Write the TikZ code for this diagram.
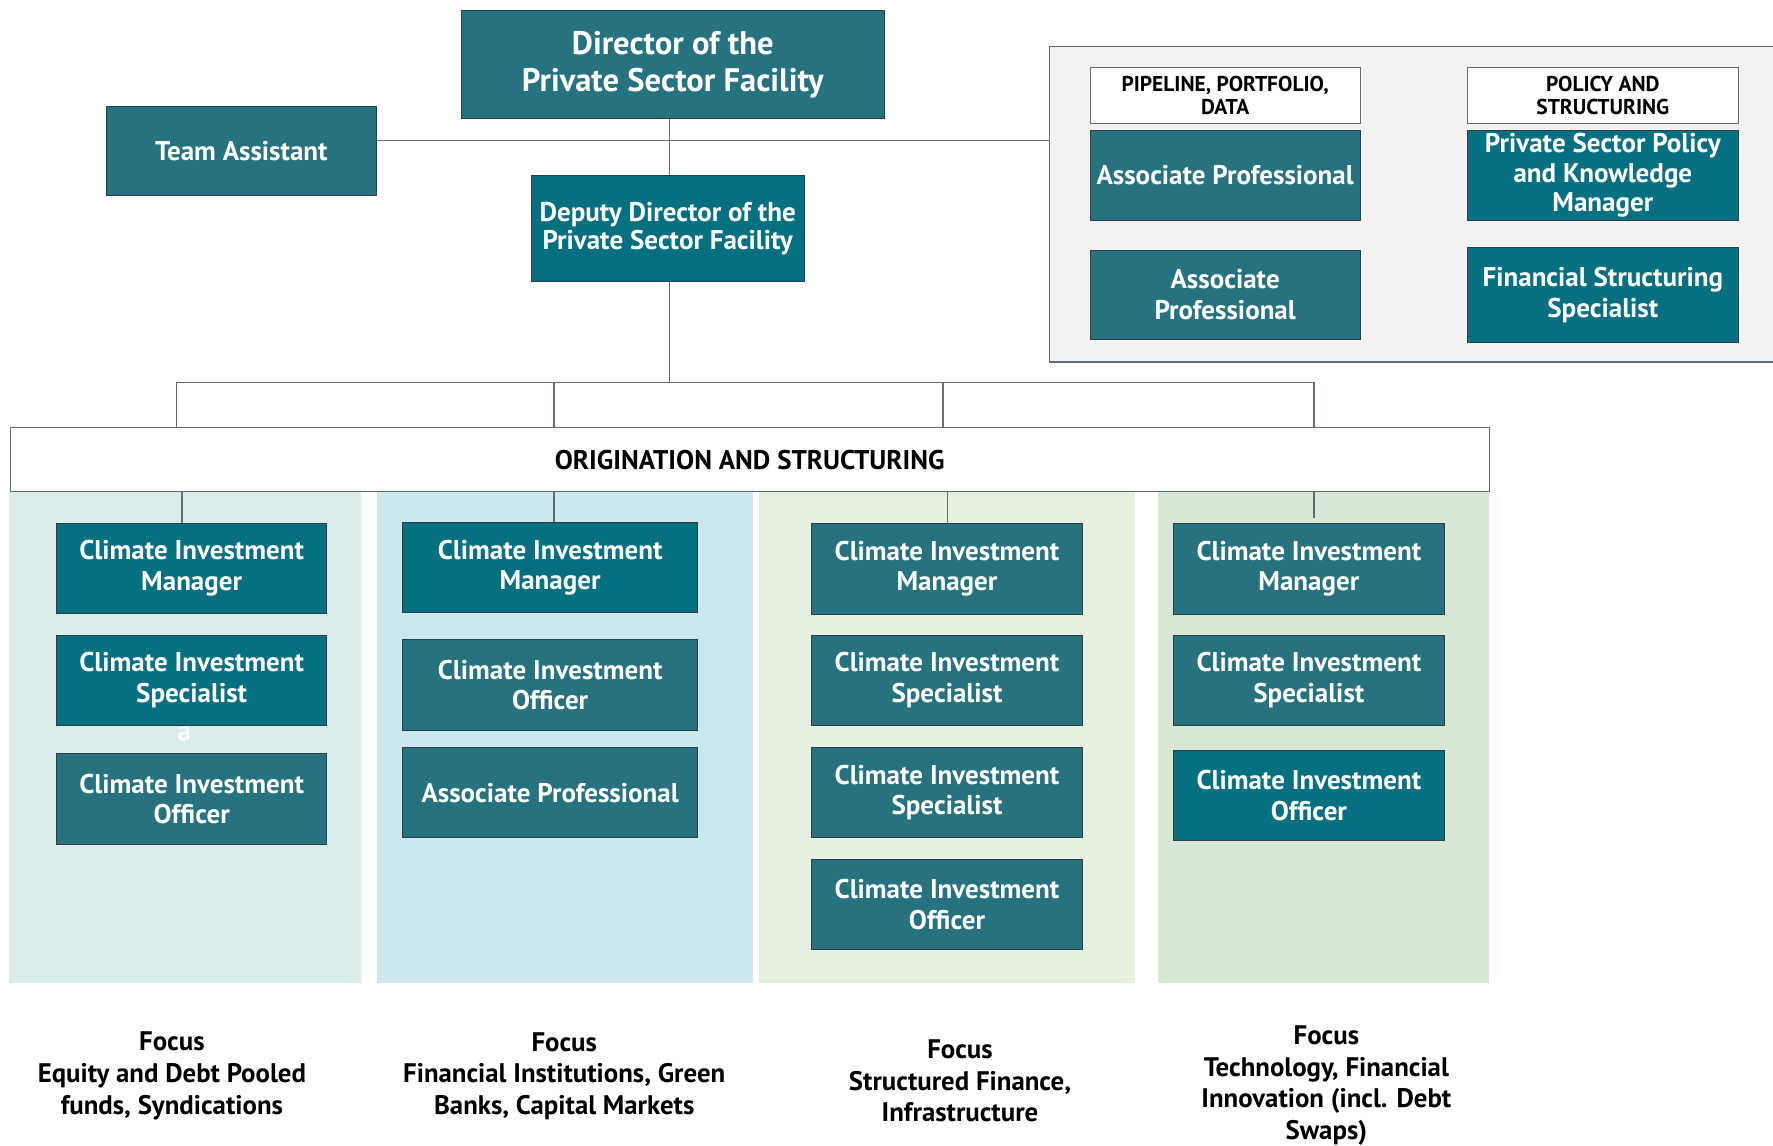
\documentclass[tikz,border=0pt]{standalone}
\usepackage{fontspec}
\setmainfont{PT Sans}
\usepackage{tikz}

\definecolor{tealgrey}{RGB}{38,114,126}
\definecolor{tealdark}{RGB}{5,112,128}
\definecolor{boxline}{RGB}{45,62,72}
\definecolor{linegrey}{RGB}{100,108,118}
\definecolor{panelfill}{RGB}{242,242,242}
\definecolor{colone}{RGB}{219,237,235}
\definecolor{coltwo}{RGB}{203,232,239}
\definecolor{colthree}{RGB}{230,240,223}
\definecolor{colfour}{RGB}{214,232,211}

\tikzset{
    role/.style={draw=boxline, fill=tealgrey, text=white, align=center,
        font=\bfseries\fontsize{13.6}{15.2}\selectfont,
        minimum width=4.78cm, minimum height=1.6cm, inner sep=1pt},
    roledark/.style={role, fill=tealdark},
    header/.style={draw=linegrey, fill=white, align=center,
        font=\bfseries\fontsize{10.8}{11.9}\selectfont,
        minimum width=4.78cm, minimum height=0.98cm, inner sep=1pt},
    link/.style={draw=linegrey, line width=0.6pt},
    focus/.style={align=center, font=\bfseries\fontsize{13.5}{15.9}\selectfont}
}

\begin{document}
\begin{tikzpicture}
    \useasboundingbox (0, 0) rectangle (31.36, -20.26);

    % column backgrounds
    \fill [colone]   (0.16, -8.7) rectangle (6.38, -17.38);
    \fill [coltwo]   (6.66, -8.7) rectangle (13.32, -17.38);
    \fill [colthree] (13.42, -8.7) rectangle (20.08, -17.38);
    \fill [colfour]  (20.48, -8.7) rectangle (26.34, -17.38);

    % right panel
    \node (panel) [draw=linegrey, fill=panelfill, line width=0.8pt,
        minimum width=13.04cm, minimum height=5.58cm] at (25.08, -3.61) {};

    \node (dir) [role, minimum width=7.48cm, minimum height=1.92cm,
        font=\bfseries\fontsize{16.4}{18.7}\selectfont] at (11.9, -1.14)
        {Director of the\\Private Sector Facility};
    \node (ta) [role, minimum height=1.58cm] at (4.27, -2.67) {Team Assistant};
    \node (dep) [roledark, minimum width=4.82cm, minimum height=1.88cm,
        font=\bfseries\fontsize{13.6}{14.2}\selectfont] at (11.81, -4.04)
        {Deputy Director of the\\Private Sector Facility};

    \node (hdpipe) [header] at (21.67, -1.69) {PIPELINE, PORTFOLIO,\\DATA};
    \node (apone) [role] at (21.67, -3.1) {Associate Professional};
    \node (aptwo) [role, minimum height=1.58cm] at (21.67, -5.21) {Associate\\Professional};
    \node (hdpol) [header] at (28.35, -1.69) {POLICY AND\\STRUCTURING};
    \node (psp) [roledark, font=\bfseries\fontsize{13.6}{14.7}\selectfont] at (28.35, -3.1)
        {Private Sector Policy\\and Knowledge\\Manager};
    \node (fss) [roledark, minimum height=1.68cm] at (28.35, -5.22) {Financial Structuring\\Specialist};

    \node (orig) [draw=linegrey, fill=white, minimum width=26.16cm, minimum height=1.14cm,
        font=\bfseries\fontsize{13.6}{15}\selectfont] at (13.26, -8.13)
        {ORIGINATION AND STRUCTURING};

    % column 1
    \node (cima) [roledark] at (3.39, -10.05) {Climate Investment\\Manager};
    \node (cisa) [roledark] at (3.39, -12.03) {Climate Investment\\Specialist};
    \node (cioa) [role] at (3.39, -14.13) {Climate Investment\\Officer};
    \node (stray) [text=white, font=\fontsize{13.6}{15}\selectfont] at (3.26, -12.98) {a};

    % column 2
    \node (cimb) [roledark, minimum width=5.22cm] at (9.73, -10.04) {Climate Investment\\Manager};
    \node (ciob) [role, minimum width=5.22cm] at (9.73, -12.11) {Climate Investment\\Officer};
    \node (apb) [role, minimum width=5.22cm] at (9.73, -14.02) {Associate Professional};

    % column 3
    \node (cimc) [role] at (16.75, -10.06) {Climate Investment\\Manager};
    \node (cisc) [role] at (16.75, -12.03) {Climate Investment\\Specialist};
    \node (ciscc) [role] at (16.75, -14.02) {Climate Investment\\Specialist};
    \node (cioc) [role] at (16.75, -16.0) {Climate Investment\\Officer};

    % column 4
    \node (cimd) [role] at (23.15, -10.06) {Climate Investment\\Manager};
    \node (cisd) [role] at (23.15, -12.03) {Climate Investment\\Specialist};
    \node (ciod) [roledark] at (23.15, -14.07) {Climate Investment\\Officer};

    % focus notes
    \node (fa) [focus] at (3.04, -19.03) {Focus\\Equity and Debt Pooled\\funds, Syndications};
    \node (fb) [focus] at (9.98, -19.03) {Focus\\Financial Institutions, Green\\Banks, Capital Markets};
    \node (fc) [focus] at (16.98, -19.12) {Focus\\Structured Finance,\\Infrastructure};
    \node (fd) [focus] at (23.46, -19.2) {Focus\\Technology, Financial\\Innovation (incl. Debt\\Swaps)};

    % connectors
    \coordinate (hub) at (11.84, -2.48);
    \coordinate (fork) at (11.84, -6.76);
    \draw [link] (dir.south -| hub) -- (dep.north -| hub);
    \draw [link] (ta.east |- hub) -- (panel.west |- hub);
    \draw [link] (dep.south -| fork) -- (fork);
    \draw [link] (3.12, -6.76) -- (23.24, -6.76);
    \draw [link] (3.12, -6.76) -- (orig.north -| 3.12, 0);
    \draw [link] (9.8, -6.76) -- (orig.north -| 9.8, 0);
    \draw [link] (16.68, -6.76) -- (orig.north -| 16.68, 0);
    \draw [link] (23.24, -6.76) -- (orig.north -| 23.24, 0);
    \draw [link] (orig.south -| 3.22, 0) -- (cima.north -| 3.22, 0);
    \draw [link] (orig.south -| 9.8, 0) -- (cimb.north -| 9.8, 0);
    \draw [link] (orig.south -| 16.76, 0) -- (cimc.north -| 16.76, 0);
    \draw [link] (orig.south -| 23.24, 0) -- (23.24, -9.16);
\end{tikzpicture}
\end{document}
